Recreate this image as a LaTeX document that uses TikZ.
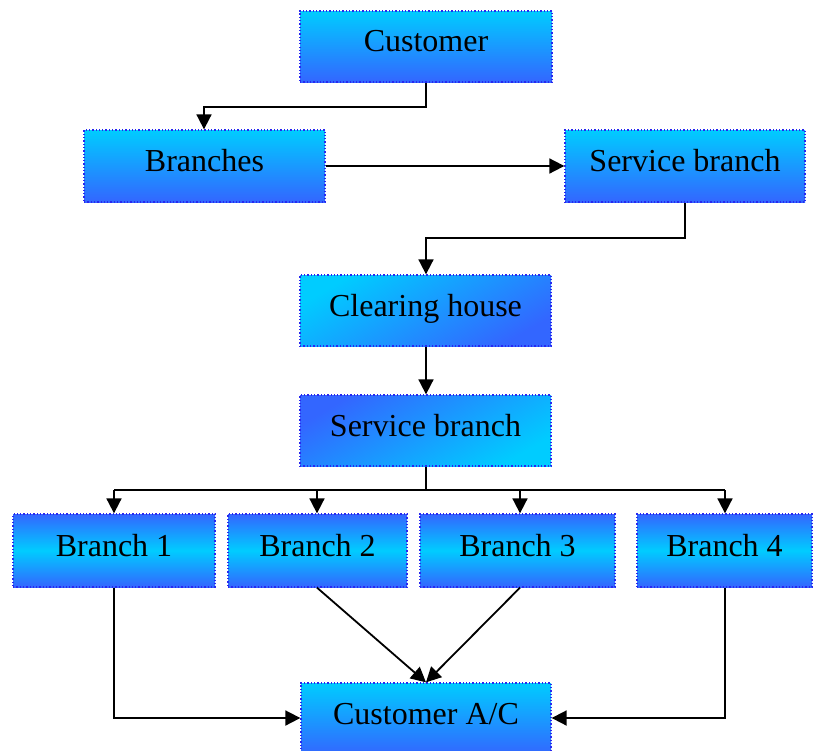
\documentclass[tikz,border=0pt]{standalone}
\usepackage{fontspec}
\setmainfont{Liberation Serif}
\usetikzlibrary{arrows.meta}
\definecolor{skycyan}{RGB}{0,204,255}
\definecolor{deepblue}{RGB}{51,102,255}
\definecolor{edgeblue}{RGB}{40,40,240}
\newcommand{\lifted}[1]{\raisebox{11pt}{#1}}
\tikzset{
  box/.style={draw=edgeblue, dotted, line width=1.3pt, inner sep=0pt,
    font=\fontsize{32}{38}\selectfont, text=black},
  downfade/.style={box, top color=skycyan, bottom color=deepblue},
  diagfade/.style={box, top color=skycyan, bottom color=deepblue, shading angle=30},
  revfade/.style={box, top color=deepblue, bottom color=skycyan, shading angle=30},
  bandfade/.style={box, top color=deepblue, bottom color=deepblue, middle color=skycyan},
  link/.style={line width=1.8pt, -{Triangle[length=15pt,width=15pt]}},
  plain/.style={line width=1.8pt}
}
\begin{document}
\begin{tikzpicture}[x=1pt,y=-1pt]
\useasboundingbox (0,0) rectangle (814,750);
% top part of the flow
\node[downfade, minimum width=252pt, minimum height=71pt] (cust) at (426,46.5) {\lifted{Customer}};
\node[downfade, minimum width=241pt, minimum height=72pt] (br) at (204.5,166) {\lifted{Branches}};
\node[downfade, minimum width=240pt, minimum height=72pt] (sb1) at (685,166) {\lifted{Service branch}};
\node[diagfade, minimum width=251pt, minimum height=71pt] (ch) at (425.5,310.5) {\lifted{Clearing house}};
\node[revfade, minimum width=251pt, minimum height=71pt] (sb2) at (425.5,430.5) {\lifted{Service branch}};
% the four branches
\node[bandfade, minimum width=202pt, minimum height=73pt] (b1) at (114,550.5) {\lifted{Branch 1}};
\node[bandfade, minimum width=179pt, minimum height=73pt] (b2) at (317.5,550.5) {\lifted{Branch 2}};
\node[bandfade, minimum width=195pt, minimum height=73pt] (b3) at (517.5,550.5) {\lifted{Branch 3}};
\node[bandfade, minimum width=175pt, minimum height=73pt] (b4) at (724.5,550.5) {\lifted{Branch 4}};
% account at the bottom
\node[downfade, minimum width=250pt, minimum height=72pt] (acc) at (426,719) {\lifted{Customer A/C}};

\coordinate (j1) at (426,490);
\draw[link] (cust.south) |- (204,107) -- (br.north -| 204,0);
\draw[link] (br.east) -- (sb1.west);
\draw[link] (sb1.south) |- (426,238) -- (ch.north -| 426,0);
\draw[link] (ch.south -| 426,0) -- (sb2.north -| 426,0);
\draw[plain] (sb2.south -| 426,0) -- (j1);
\draw[plain] (114,490) -- (725,490);
\draw[link] (114,490) -- (b1.north -| 114,0);
\draw[link] (317,490) -- (b2.north -| 317,0);
\draw[link] (520,490) -- (b3.north -| 520,0);
\draw[link] (725,490) -- (b4.north -| 725,0);
\draw[link] (b1.south -| 114,0) |- (acc.west |- 0,718);
\draw[link] (b4.south -| 725,0) |- (acc.east |- 0,718);
\draw[link] (b2.south -| 317,0) -- (acc.north);
\draw[link] (b3.south -| 520,0) -- (acc.north);
\end{tikzpicture}
\end{document}
